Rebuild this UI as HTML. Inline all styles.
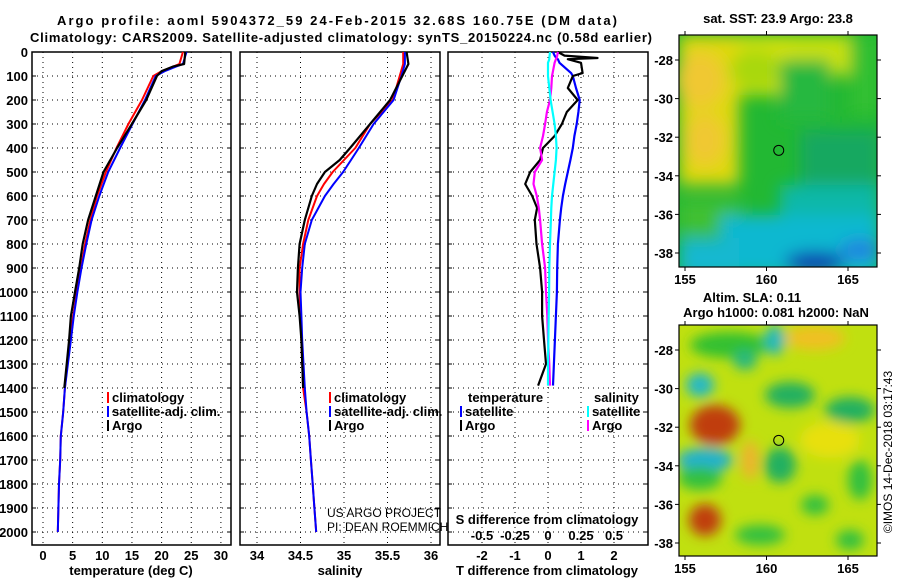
<!DOCTYPE html>
<html><head><meta charset="utf-8"><style>
body{margin:0;background:#fff}
svg{display:block}
text{font-family:"Liberation Sans",sans-serif;font-weight:bold;font-size:13px;fill:#000}
text.reg{font-weight:normal;font-size:12px}
</style></head><body>
<svg id="c" width="900" height="580" viewBox="0 0 900 580" xmlns="http://www.w3.org/2000/svg">
<defs>
<filter id="blur1" x="-20%" y="-20%" width="140%" height="140%"><feGaussianBlur stdDeviation="8"/></filter>
<filter id="blur2" x="-20%" y="-20%" width="140%" height="140%"><feGaussianBlur stdDeviation="6"/></filter>
<clipPath id="cm1"><rect x="679" y="35" width="198" height="232"/></clipPath>
<clipPath id="cm2"><rect x="679" y="325" width="198" height="231"/></clipPath>
</defs>
<text x="337" y="25" text-anchor="middle" font-size="15" textLength="560" lengthAdjust="spacing">Argo profile: aoml 5904372_59 24-Feb-2015 32.68S 160.75E (DM data)</text>
<text x="341" y="42" text-anchor="middle" font-size="14" textLength="622" lengthAdjust="spacing">Climatology: CARS2009. Satellite-adjusted climatology: synTS_20150224.nc (0.58d earlier)</text>
<g id="g1"></g>
<g clip-path="url(#cm1)">
<rect x="679" y="35" width="198" height="232" fill="#22b833"/>
<g filter="url(#blur1)">
<rect x="679" y="35" width="120" height="60" fill="#d0e010"/>
<rect x="679" y="35" width="60" height="150" fill="#e0d810"/>
<ellipse cx="700" cy="80" rx="25" ry="28" fill="#f0c830"/>
<ellipse cx="705" cy="140" rx="20" ry="26" fill="#f0c830"/>
<rect x="790" y="35" width="60" height="40" fill="#c8e010"/>
<ellipse cx="755" cy="70" rx="25" ry="20" fill="#a8d810"/>
<rect x="780" y="60" width="50" height="60" fill="#28b840"/>
<rect x="850" y="35" width="30" height="80" fill="#30c030"/>
<rect x="800" y="130" width="80" height="60" fill="#12a860"/>
<rect x="780" y="185" width="100" height="40" fill="#10b8a8"/>
<rect x="679" y="200" width="60" height="35" fill="#40c030"/>
<rect x="720" y="215" width="160" height="60" fill="#10b8d0"/>
<rect x="679" y="238" width="60" height="40" fill="#18b8d0"/>
<ellipse cx="815" cy="262" rx="30" ry="10" fill="#1030b0"/>
<ellipse cx="860" cy="250" rx="20" ry="10" fill="#2080e0"/>
</g>
</g>
<g clip-path="url(#cm2)">
<rect x="679" y="325" width="198" height="231" fill="#c0e010"/>
<g filter="url(#blur2)">
<ellipse cx="730" cy="345" rx="40" ry="13" fill="#30c030"/>
<ellipse cx="700" cy="385" rx="14" ry="12" fill="#20b8c8"/>
<ellipse cx="715" cy="425" rx="25" ry="20" fill="#c03c10"/>
<ellipse cx="705" cy="460" rx="28" ry="12" fill="#20b0d0"/>
<ellipse cx="700" cy="478" rx="22" ry="12" fill="#30c040"/>
<ellipse cx="745" cy="360" rx="12" ry="10" fill="#28b880"/>
<ellipse cx="790" cy="395" rx="25" ry="13" fill="#20b060"/>
<ellipse cx="850" cy="410" rx="25" ry="13" fill="#20b060"/>
<ellipse cx="815" cy="338" rx="30" ry="12" fill="#f0c020"/>
<ellipse cx="775" cy="340" rx="10" ry="15" fill="#20b8c0"/>
<ellipse cx="780" cy="465" rx="16" ry="18" fill="#20b060"/>
<ellipse cx="750" cy="460" rx="8" ry="20" fill="#f0b030"/>
<ellipse cx="705" cy="520" rx="16" ry="16" fill="#c03c10"/>
<ellipse cx="760" cy="535" rx="25" ry="10" fill="#30c040"/>
<ellipse cx="815" cy="505" rx="14" ry="10" fill="#30c040"/>
<ellipse cx="860" cy="480" rx="12" ry="20" fill="#30c040"/>
<ellipse cx="850" cy="540" rx="14" ry="10" fill="#30c040"/>
<ellipse cx="830" cy="440" rx="30" ry="18" fill="#e8e010"/>
</g>
</g>
<text x="778" y="23" text-anchor="middle">sat. SST: 23.9 Argo: 23.8</text>
<text x="752" y="302" text-anchor="middle">Altim. SLA: 0.11</text>
<text x="776" y="317" text-anchor="middle">Argo h1000: 0.081 h2000: NaN</text>
<text class="reg" transform="translate(892,452) rotate(-90)" text-anchor="middle">©IMOS 14-Dec-2018 03:17:43</text>
<text class="reg" x="327" y="517">US ARGO PROJECT</text>
<text class="reg" x="327" y="531">PI: DEAN ROEMMICH</text>
</svg>
<script>
// ---- data ----
const depthT = [0, 50, 60, 80, 100, 200, 300, 400, 500, 600, 700, 800, 900, 1000, 1100, 1200, 1400, 1500, 1600, 1700, 1800, 1900, 2000];
const tempArgo = [24, 23.8, 22, 20, 19.2, 17.4, 15.0, 12.5, 10.2, 8.9, 7.6, 6.7, 6.1, 5.4, 4.7, 4.4, 3.6];
const tempClim = [23.6, 23.0, 22, 20, 18.6, 16.7, 14.4, 12.4, 10.6, 9.1, 8.0, 7.1, 6.4, 5.7, 5.1, 4.5, 3.7, 3.4, 3.0, 2.9, 2.7, 2.6, 2.5];
const tempSat = [24.2, 23.6, 22.5, 20.5, 19.0, 17.2, 15.1, 13.0, 11.0, 9.5, 8.2, 7.3, 6.5, 5.8, 5.2, 4.7, 3.7, 3.4, 3.0, 2.9, 2.7, 2.6, 2.5];
const depthS = [0, 50, 100, 200, 300, 400, 450, 500, 550, 600, 700, 800, 900, 1000, 1100, 1200, 1400, 1500, 1600, 1700, 1800, 1900, 2000];
const salArgo = [35.72, 35.74, 35.67, 35.53, 35.30, 35.07, 34.95, 34.78, 34.69, 34.63, 34.55, 34.49, 34.47, 34.46, 34.49, 34.51, 34.53];
const salClim = [35.68, 35.68, 35.64, 35.56, 35.30, 35.13, 35.0, 34.87, 34.77, 34.69, 34.59, 34.53, 34.49, 34.49, 34.5, 34.51, 34.53, 34.57, 34.6, 34.62, 34.64, 34.66, 34.68];
const salSat = [35.70, 35.70, 35.66, 35.57, 35.34, 35.17, 35.08, 34.99, 34.88, 34.78, 34.63, 34.55, 34.52, 34.50, 34.51, 34.52, 34.55, 34.57, 34.6, 34.62, 34.64, 34.66, 34.68];
const depthD = [0, 15, 25, 30, 45, 88, 100, 150, 200, 250, 300, 350, 400, 450, 500, 550, 600, 650, 700, 800, 900, 1000, 1100, 1200, 1300, 1390];
const tDiffArgo = [0.3, 0.5, 1.5, 0.6, 1.0, 1.05, 0.75, 0.6, 0.9, 0.57, 0.42, 0.2, -0.15, -0.24, -0.54, -0.69, -0.48, -0.33, -0.4, -0.35, -0.24, -0.18, -0.18, -0.12, -0.06, -0.3];
const tDiffSat = [0.15, 0.2, 0.25, 0.3, 0.35, 0.7, 0.75, 0.85, 0.96, 0.92, 0.87, 0.8, 0.75, 0.68, 0.6, 0.52, 0.45, 0.4, 0.36, 0.3, 0.28, 0.27, 0.24, 0.21, 0.18, 0.15];
const sDiffArgo = [0.075, 0.07, 0.065, 0.06, 0.05, 0.035, 0.03, 0.025, 0.015, -0.008, -0.022, -0.038, -0.06, -0.045, -0.1, -0.11, -0.085, -0.07, -0.06, -0.045, -0.022, -0.015, -0.005, 0.0, 0.01, 0.015];
const sDiffSat = [0.015, 0.012, 0.01, 0.01, 0.0, 0.0, 0.0, 0.01, 0.02, 0.035, 0.05, 0.06, 0.065, 0.06, 0.05, 0.04, 0.03, 0.025, 0.022, 0.015, 0.01, 0.008, 0.005, 0.003, 0.0, 0.0];
const depthTicks = [0,100,200,300,400,500,600,700,800,900,1000,1100,1200,1300,1400,1500,1600,1700,1800,1900,2000];
const tempTicks = [0,5,10,15,20,25,30];
const salTicks = [34,34.5,35,35.5,36];
const salTickLabels = ['34','34.5','35','35.5','36'];
const tdTicks = [-2,-1,0,1,2];
const sdTicks = [-0.5,-0.25,0,0.25,0.5];
const sdTickLabels = ['-0.5','-0.25','0','0.25','0.5'];
const lonTicks = [155,160,165];
const latTicks1 = [-28,-30,-32,-34,-36,-38];
const latTicks2 = [-28,-30,-32,-34,-36,-38];
const argoLon = [160.75];
const argoLat = [-32.68];

const NS = 'http://www.w3.org/2000/svg';
const svg = document.getElementById('c');
const g = document.getElementById('g1');
function mk(tag, attrs, parent) {
  const e = document.createElementNS(NS, tag);
  for (const k in attrs) e.setAttribute(k, attrs[k]);
  (parent || g).appendChild(e);
  return e;
}
const yD = d => 52 + d * 0.24;
const xT = t => 43 + t * 5.93;
const xS = s => 257 + (s - 34) * 87;
const xTD = v => 548 + v * 33.0;
const xSD = v => 548 + v * 132;
const PT = 545;

function panel(name, x0, x1, xTicksPos) {
  const f = mk('rect', {x: x0, y: 52, width: x1 - x0, height: PT - 52, fill: '#fff', stroke: '#000', 'stroke-width': 1.5});
  
  
  depthTicks.forEach(d => {
    const l = mk('line', {x1: x0, x2: x1, y1: yD(d), y2: yD(d), stroke: '#000', 'stroke-dasharray': '1,4'});
    
    
    mk('line', {x1: x0, x2: x0 + 4, y1: yD(d), y2: yD(d), stroke: '#000'});
    mk('line', {x1: x1 - 4, x2: x1, y1: yD(d), y2: yD(d), stroke: '#000'});
  });
  xTicksPos.forEach(x => {
    const l = mk('line', {x1: x, x2: x, y1: 52, y2: PT, stroke: '#000', 'stroke-dasharray': '1,4'});
    
    
  });
}
function line(xs, ys, color, name, w) {
  const n = Math.min(xs.length, ys.length);
  let d = '';
  for (let i = 0; i < n; i++) d += (i ? 'L' : 'M') + xs[i].toFixed(1) + ',' + ys[i].toFixed(1);
  const p = mk('path', {d: d, fill: 'none', stroke: color, 'stroke-width': w || 2, 'stroke-linejoin': 'round'});
  
  
}
function txt(x, y, s, name, anchor, extra) {
  const t = mk('text', Object.assign({x: x, y: y, 'text-anchor': anchor || 'start'}, extra || {}));
  t.textContent = s;
  
  
  return t;
}

panel('temperature-panel', 32, 231, tempTicks.map(xT));
panel('salinity-panel', 240, 440, salTicks.map(xS));
panel('difference-panel', 448, 648, tdTicks.map(xTD));

depthTicks.forEach(d => txt(28, yD(d) + 5, String(d), 'depth-tick-label', 'end'));
tempTicks.forEach(t => txt(xT(t), 560, String(t), 'temperature-tick-label', 'middle'));
salTicks.forEach((s, i) => txt(xS(s), 560, salTickLabels[i], 'salinity-tick-label', 'middle'));
tdTicks.forEach(t => txt(xTD(t), 560, String(t), 't-diff-tick-label', 'middle'));
sdTicks.forEach((t, i) => txt(xSD(t), 540, sdTickLabels[i], 's-diff-tick-label', 'middle'));
txt(131, 575, 'temperature (deg C)', 'temperature-axis-title', 'middle');
txt(340, 575, 'salinity', 'salinity-axis-title', 'middle');
txt(547, 575, 'T difference from climatology', 't-diff-axis-title', 'middle');
txt(547, 524, 'S difference from climatology', 's-diff-axis-title', 'middle');

line(tempClim.map(xT), depthT.map(yD), '#f00', 'temp-climatology-line');
line(tempSat.map(xT), depthT.map(yD), '#00f', 'temp-satellite-line');
line(tempArgo.map(xT), depthT.map(yD), '#000', 'temp-argo-line', 2.2);
line(salClim.map(xS), depthS.map(yD), '#f00', 'sal-climatology-line');
line(salSat.map(xS), depthS.map(yD), '#00f', 'sal-satellite-line');
line(salArgo.map(xS), depthS.map(yD), '#000', 'sal-argo-line', 2.2);
line(tDiffSat.map(xTD), depthD.map(yD), '#00f', 't-diff-satellite-line', 2.2);
line(tDiffArgo.map(xTD), depthD.map(yD), '#000', 't-diff-argo-line', 2.2);
line(sDiffArgo.map(xSD), depthD.map(yD), '#f0f', 's-diff-argo-line', 2.2);
line(sDiffSat.map(xSD), depthD.map(yD), '#0ff', 's-diff-satellite-line', 2.2);

function leg(x, y, color, label, name) {
  const r = mk('rect', {x: x, y: y - 10, width: 2, height: 11, fill: color});
  
  
  txt(x + 5, y, label, name);
}
[['climatology', '#f00'], ['satellite-adj. clim.', '#00f'], ['Argo', '#000']].forEach((a, i) => leg(107, 402 + i * 14, a[1], a[0], 'temp-legend-entry'));
[['climatology', '#f00'], ['satellite-adj. clim.', '#00f'], ['Argo', '#000']].forEach((a, i) => leg(329, 402 + i * 14, a[1], a[0], 'sal-legend-entry'));
txt(468, 402, 'temperature', 'diff-legend-temperature-header');
txt(594, 402, 'salinity', 'diff-legend-salinity-header');
leg(460, 416, '#00f', 'satellite', 'diff-legend-entry');
leg(460, 430, '#000', 'Argo', 'diff-legend-entry');
leg(587, 416, '#0ff', 'satellite', 'diff-legend-entry');
leg(587, 430, '#f0f', 'Argo', 'diff-legend-entry');

const lonX = lon => 685 + (lon - 155) * 16.3;
const latY1 = lat => 60 + (-28 - lat) * 19.3;
const latY2 = lat => 350 + (-28 - lat) * 19.3;
function mapFrame(name, top, bot, latY, lats) {
  const r = mk('rect', {x: 679, y: top, width: 198, height: bot - top, fill: 'none', stroke: '#000', 'stroke-width': 1.2}, svg);
  
  
  lats.forEach(l => {
    const y = latY(l);
    mk('line', {x1: 675, x2: 679, y1: y, y2: y, stroke: '#000'}, svg);
    mk('line', {x1: 877, x2: 881, y1: y, y2: y, stroke: '#000'}, svg);
    const t = mk('text', {x: 673, y: y + 5, 'text-anchor': 'end'}, svg);
    t.textContent = String(l);
    
    
  });
  lonTicks.forEach(l => {
    const x = lonX(l);
    mk('line', {x1: x, x2: x, y1: top - 4, y2: top, stroke: '#000'}, svg);
    mk('line', {x1: x, x2: x, y1: bot, y2: bot + 4, stroke: '#000'}, svg);
    const t = mk('text', {x: x, y: bot + 17, 'text-anchor': 'middle'}, svg);
    t.textContent = String(l);
    
    
  });
  const c = mk('circle', {cx: lonX(argoLon[0]), cy: latY(argoLat[0]), r: 5, fill: 'none', stroke: '#000', 'stroke-width': 1}, svg);
  
  
}
mapFrame('sst-map', 35, 267, latY1, latTicks1);
mapFrame('sla-map', 325, 556, latY2, latTicks2);
</script>
</body></html>
